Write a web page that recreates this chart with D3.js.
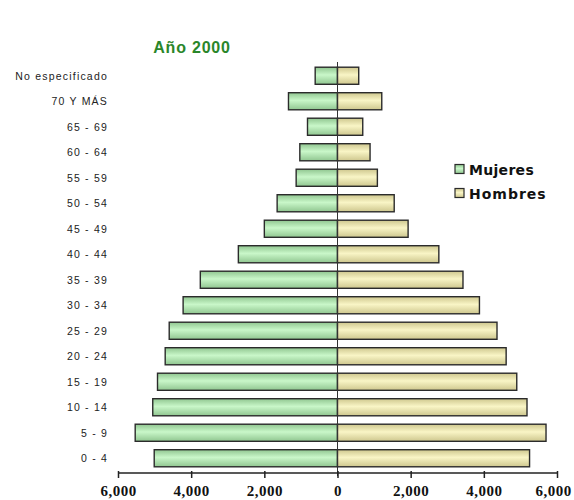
<!DOCTYPE html>
<html>
<head>
<meta charset="utf-8">
<script src="https://cdn.jsdelivr.net/npm/d3@7/dist/d3.min.js"></script>
<style>
  html, body { margin: 0; padding: 0; background: #fff; }
  svg { display: block; }
</style>
</head>
<body>
<svg id="chart" width="574" height="500"></svg>
<script>
// Age groups, top to bottom
const ageGroups = ["No especificado", "70 Y MÁS", "65 - 69", "60 - 64", "55 - 59", "50 - 54",
  "45 - 49", "40 - 44", "35 - 39", "30 - 34", "25 - 29", "20 - 24", "15 - 19", "10 - 14", "5 - 9", "0 - 4"];
// Population by sex (same order as ageGroups)
const mujeres = [610, 1340, 820, 1030, 1130, 1650, 2000, 2710, 3750, 4220, 4600, 4710, 4920, 5050, 5530, 5010];
const hombres = [580, 1210, 690, 890, 1090, 1550, 1930, 2770, 3430, 3880, 4360, 4610, 4900, 5180, 5700, 5250];
const tickValues = [-6000, -4000, -2000, 0, 2000, 4000, 6000];
const seriesNames = ["Mujeres", "Hombres"];

const svg = d3.select("#chart");

const x = d3.scaleLinear().domain([-6000, 6000]).range([118, 557]);
const y = d3.scaleBand().domain(ageGroups).range([63, 471]).paddingInner(0.33).paddingOuter(0.165);

const defs = svg.append("defs");
function barGradient(id, edge, mid) {
  const g = defs.append("linearGradient").attr("id", id)
    .attr("x1", 0).attr("y1", 0).attr("x2", 0).attr("y2", 1);
  g.append("stop").attr("offset", "0%").attr("stop-color", edge);
  g.append("stop").attr("offset", "45%").attr("stop-color", mid);
  g.append("stop").attr("offset", "100%").attr("stop-color", edge);
}
barGradient("gMuj", "#90c690", "#c9f7c9");
barGradient("gHom", "#cec78e", "#f9f5c6");

// Title
svg.append("text")
  .attr("x", 192).attr("y", 53)
  .attr("text-anchor", "middle")
  .attr("font-family", "Liberation Sans, Arial, sans-serif")
  .attr("font-weight", "bold").attr("font-size", 16)
  .attr("letter-spacing", 0.8)
  .attr("fill", "#2a862a")
  .text("Año 2000");

// Bars
const rows = ageGroups.map((g, i) => ({ g, m: mujeres[i], h: hombres[i] }));

svg.append("g").selectAll("rect").data(rows).join("rect")
  .attr("x", d => x(-d.m)).attr("y", d => y(d.g))
  .attr("width", d => x(0) - x(-d.m)).attr("height", y.bandwidth())
  .attr("fill", "url(#gMuj)").attr("stroke", "#2b2b2b").attr("stroke-width", 1.4);

svg.append("g").selectAll("rect").data(rows).join("rect")
  .attr("x", x(0)).attr("y", d => y(d.g))
  .attr("width", d => x(d.h) - x(0)).attr("height", y.bandwidth())
  .attr("fill", "url(#gHom)").attr("stroke", "#2b2b2b").attr("stroke-width", 1.4);

// Center line
svg.append("line")
  .attr("x1", x(0)).attr("x2", x(0)).attr("y1", 62).attr("y2", 476)
  .attr("stroke", "#333").attr("stroke-width", 1);

// Category labels
svg.append("g").selectAll("text").data(ageGroups).join("text")
  .attr("x", 108).attr("y", d => y(d) + y.bandwidth() / 2 + 4)
  .attr("text-anchor", "end")
  .attr("font-family", "Liberation Sans, Arial, sans-serif")
  .attr("font-size", 10.5)
  .attr("letter-spacing", 1.2)
  .attr("fill", "#222")
  .text(d => d);

// Bottom axis
const axis = d3.axisBottom(x).tickValues(tickValues).tickSize(5)
  .tickFormat(d => d3.format(",")(Math.abs(d)));
const ax = svg.append("g").attr("transform", "translate(0,473)").call(axis);
ax.select(".domain").attr("stroke", "#222").attr("stroke-width", 1.5).attr("d", `M${x(-6000)},0H${x(6000)}`);
ax.selectAll(".tick line").attr("stroke", "#222").attr("stroke-width", 1.5).attr("y1", -2);
ax.selectAll(".tick text")
  .attr("y", 12)
  .attr("dx", d => (d === 6000 ? -4 : 0))
  .attr("font-family", "Liberation Serif, Times New Roman, serif")
  .attr("font-weight", "bold").attr("font-size", 15)
  .attr("letter-spacing", 0.5)
  .attr("fill", "#111");

// Legend
const legend = svg.append("g");
const fills = ["url(#gMuj)", "url(#gHom)"];
seriesNames.forEach((name, i) => {
  const ly = 169 + i * 24;
  legend.append("rect")
    .attr("x", 455).attr("y", ly - 4.5).attr("width", 9).attr("height", 9)
    .attr("fill", fills[i]).attr("stroke", "#2b2b2b").attr("stroke-width", 1.2);
  legend.append("text")
    .attr("x", 469).attr("y", ly + 5.5)
    .attr("font-family", "DejaVu Sans, Verdana, sans-serif")
    .attr("font-weight", "bold").attr("font-size", 14)
    .attr("letter-spacing", i === 1 ? 1 : 0.3)
    .attr("fill", "#111")
    .text(name);
});
</script>
</body>
</html>
